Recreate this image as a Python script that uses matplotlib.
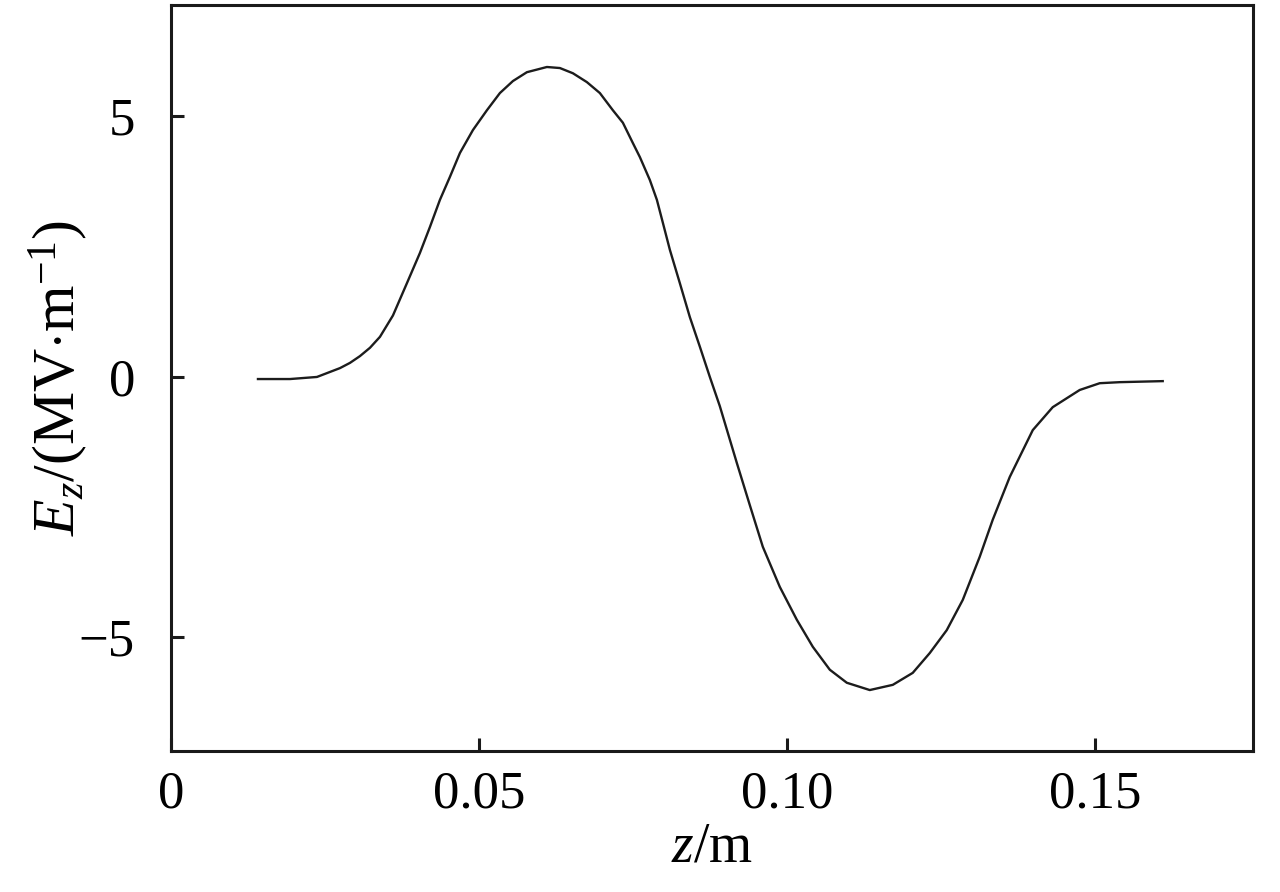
import matplotlib
matplotlib.use('Agg')
import matplotlib.pyplot as plt

plt.rcParams['font.family'] = ['Liberation Serif', 'DejaVu Serif']
plt.rcParams['mathtext.fontset'] = 'custom'
plt.rcParams['mathtext.rm'] = 'Liberation Serif'
plt.rcParams['mathtext.it'] = 'Liberation Serif:italic'

# axial field profile (z in m, Ez in MV/m)
z = [0.01412, 0.01932, 0.02370, 0.02744, 0.02906, 0.03068, 0.03231, 0.03393,
     0.03604, 0.03831, 0.04042, 0.04205, 0.04367, 0.04529, 0.04692, 0.04903,
     0.05130, 0.05341, 0.05552, 0.05779, 0.06104, 0.06315, 0.06526, 0.06753,
     0.06964, 0.07175, 0.07338, 0.07500, 0.07614, 0.07776, 0.07890, 0.07987,
     0.08101, 0.08263, 0.08425, 0.08588, 0.08750, 0.08912, 0.09188, 0.09399,
     0.09610, 0.09886, 0.10162, 0.10422, 0.10698, 0.10974, 0.11347, 0.11721,
     0.12045, 0.12321, 0.12597, 0.12857, 0.13133, 0.13344, 0.13620, 0.13994,
     0.14318, 0.14756, 0.15081, 0.15406, 0.16104]
ez = [-0.04, -0.04, 0.00, 0.17, 0.27, 0.40, 0.56, 0.77,
      1.18, 1.80, 2.38, 2.88, 3.40, 3.84, 4.30, 4.74,
      5.12, 5.45, 5.68, 5.85, 5.95, 5.93, 5.83, 5.66,
      5.45, 5.12, 4.88, 4.49, 4.22, 3.78, 3.40, 2.96,
      2.44, 1.80, 1.15, 0.58, 0.00, -0.56, -1.65, -2.46,
      -3.26, -4.03, -4.66, -5.18, -5.62, -5.87, -6.01, -5.91,
      -5.68, -5.30, -4.86, -4.28, -3.45, -2.74, -1.92, -1.02,
      -0.58, -0.25, -0.12, -0.10, -0.08]

xticks = [0, 0.05, 0.10, 0.15]
xtick_labels = ['0', '0.05', '0.10', '0.15']
yticks = [-5, 0, 5]
ytick_labels = ['\u22125', '0', '5']

fig = plt.figure(figsize=(12.8, 8.92), dpi=100)
ax = fig.add_axes([171 / 1280, 1 - 751 / 892, (1253 - 171) / 1280, (751 - 5) / 892])

ax.plot(z, ez, color='#1c1c1c', linewidth=1.7, solid_joinstyle='round')

ax.set_xlim(0, 0.1757)
ax.set_ylim(-7.18, 7.14)
ax.set_xticks(xticks)
ax.set_xticklabels(xtick_labels)
ax.set_yticks(yticks)
ax.set_yticklabels(ytick_labels)

for s in ax.spines.values():
    s.set_linewidth(2.2)
    s.set_color('#1a1a1a')
ax.tick_params(axis='both', direction='in', length=9.5, width=2.2,
               color='#1a1a1a', labelsize=38)
ax.tick_params(axis='x', pad=14)
ax.tick_params(axis='y', pad=26)

ax.set_xlabel(r'$z$/m', fontsize=40, labelpad=2)
ax.set_ylabel(r'$E_z$/(MV$\cdot$m$^{-1}$)', fontsize=43, labelpad=-8)

fig.savefig('out.png', dpi=100)
